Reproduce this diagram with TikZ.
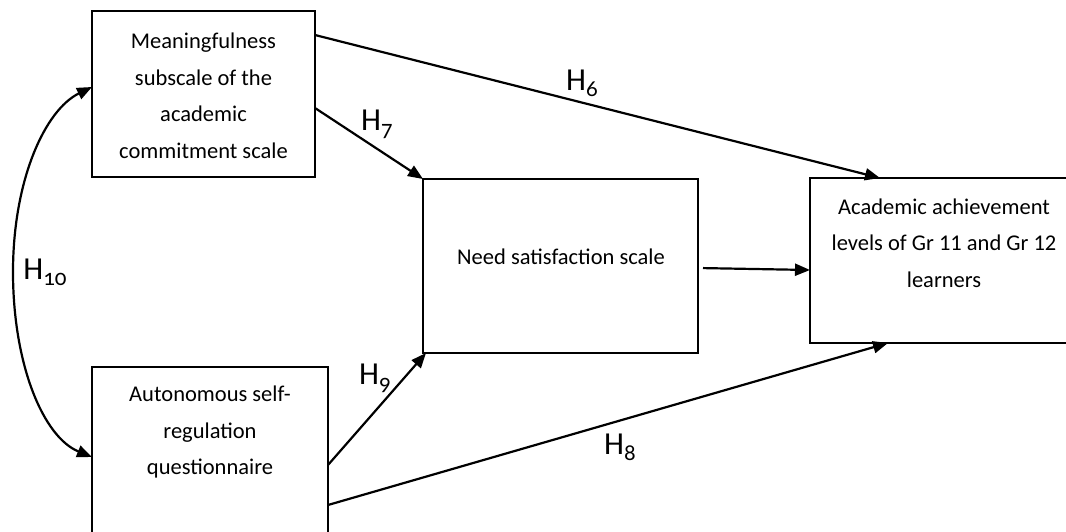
\documentclass[tikz,border=0pt]{standalone}
\usepackage{fontspec}
\setmainfont{Carlito}
\usetikzlibrary{arrows.meta}

% hypothesis label: large H with an old-style subscript number
\newcommand\hyplabel[1]{H\raisebox{-6pt}{\fontsize{23}{23}\selectfont\addfontfeatures{Numbers=OldStyle}#1}}

\tikzset{
  varbox/.style={draw=black, line width=2.8pt, rectangle, outer sep=0pt, inner sep=0pt},
  boxtext/.style={align=center, font=\fontsize{22.5}{36.5}\selectfont, text=black, inner sep=0pt},
  hyp/.style={font=\fontsize{32}{32}\selectfont, inner sep=0pt, text=black},
  path/.style={line width=2.2pt, -{Triangle[length=15pt,width=12pt]}},
  corr/.style={line width=2.2pt, {Triangle[length=15pt,width=12pt]}-{Triangle[length=15pt,width=12pt]}}
}

\begin{document}
\begin{tikzpicture}[x=1pt, y=-1pt]
  \useasboundingbox (0,0) rectangle (1066,532);
  \clip (0,0) rectangle (1066,532);
  \fill[white] (0,0) rectangle (1066,532);

  % boxes
  \node[varbox, minimum width=223pt, minimum height=166pt] (mean) at (203.5,94) {};
  \node[varbox, minimum width=236pt, minimum height=180pt] (auto) at (210,457) {};
  \node[varbox, minimum width=275pt, minimum height=174pt] (need) at (560.5,266) {};
  \node[varbox, minimum width=268pt, minimum height=165pt] (achv) at (944,260.5) {};

  % box texts
  \node[boxtext] (meantext) at (203.5,96) {Meaningfulness\\subscale of the\\academic\\commitment scale};
  \node[boxtext] (autotext) at (210,432) {Autonomous self-\\regulation\\questionnaire};
  \node[boxtext] (needtext) at (561,257) {Need satisfaction scale};
  \node[boxtext] (achvtext) at (944,243) {Academic achievement\\levels of Gr 11 and Gr 12\\learners};

  % paths
  \draw[path] ([yshift=59pt]mean.east) -- ([xshift=-64pt]achv.north);
  \draw[path] ([yshift=-14pt]mean.east) -- (need.north west);
  \draw[path] ([yshift=-8pt]auto.east) -- ([xshift=3pt]need.south west);
  \draw[path] ([yshift=-48pt]auto.east) -- ([xshift=-56pt]achv.south);
  \draw[path, shorten <=5pt] ([yshift=-2pt]need.east) -- ([yshift=-9.5pt]achv.west);

  % correlation between the two predictors
  \coordinate (mid) at (13,272);
  \draw[corr] ([yshift=7pt]mean.west) .. controls (45,110) and (13,180) .. (mid)
              .. controls (13,364) and (43,437) .. (auto.west);

  % hypothesis labels
  \node[hyp] (h6) at (582,83) {\hyplabel{6}};
  \node[hyp] (h7) at (377,124) {\hyplabel{7}};
  \node[hyp] (h9) at (375,378) {\hyplabel{9}};
  \node[hyp] (h8) at (620,447) {\hyplabel{8}};
  \node[hyp] (h10) at (45,272) {\hyplabel{10}};
\end{tikzpicture}
\end{document}
